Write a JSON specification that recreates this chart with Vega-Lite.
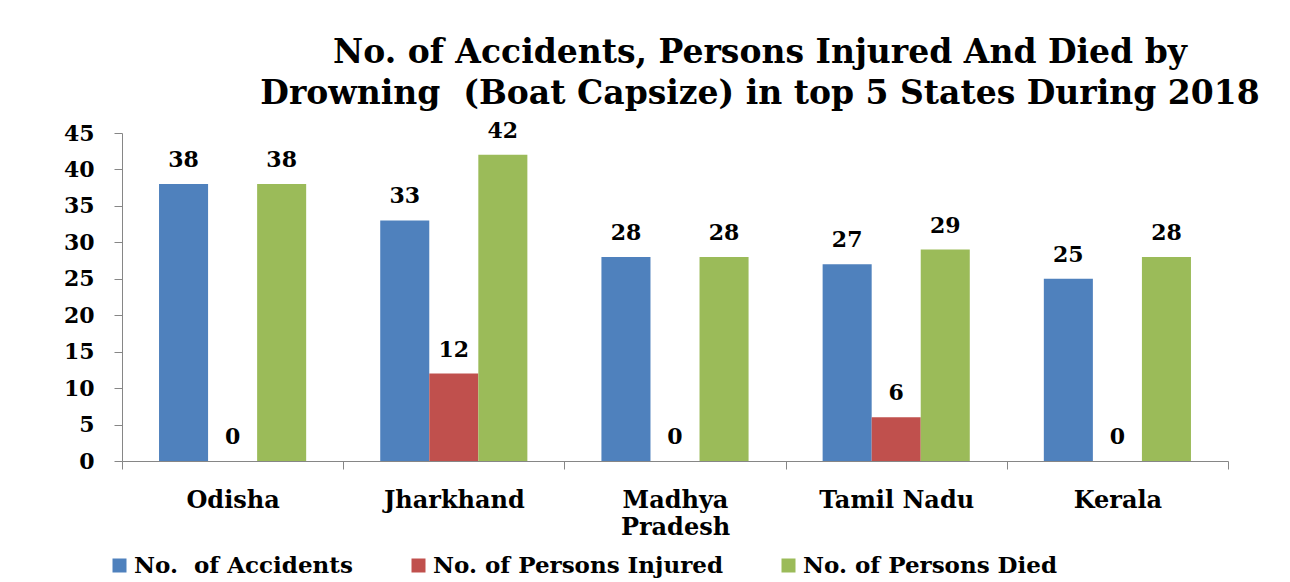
{
  "$schema": "https://vega.github.io/schema/vega-lite/v6.json",
  "autosize": "none",
  "width": 1106,
  "height": 328,
  "padding": {"left": 122, "top": 133, "right": 62, "bottom": 121},
  "background": "white",
  "config": {"view": {"stroke": null}},
  "title": {
    "text": ["No. of Accidents, Persons Injured And Died by", "Drowning\u00a0 (Boat Capsize) in top 5 States During 2018"],
    "font": "DejaVu Serif",
    "fontWeight": "bold",
    "fontSize": 33,
    "lineHeight": 41,
    "color": "black",
    "anchor": "middle",
    "dx": 85,
    "offset": 9
  },
  "data": {
    "values": [
      {"state": "Odisha", "series": "No.\u00a0 of Accidents", "value": 38},
      {"state": "Odisha", "series": "No. of Persons Injured", "value": 0},
      {"state": "Odisha", "series": "No. of Persons Died", "value": 38},
      {"state": "Jharkhand", "series": "No.\u00a0 of Accidents", "value": 33},
      {"state": "Jharkhand", "series": "No. of Persons Injured", "value": 12},
      {"state": "Jharkhand", "series": "No. of Persons Died", "value": 42},
      {"state": "Madhya Pradesh", "series": "No.\u00a0 of Accidents", "value": 28},
      {"state": "Madhya Pradesh", "series": "No. of Persons Injured", "value": 0},
      {"state": "Madhya Pradesh", "series": "No. of Persons Died", "value": 28},
      {"state": "Tamil Nadu", "series": "No.\u00a0 of Accidents", "value": 27},
      {"state": "Tamil Nadu", "series": "No. of Persons Injured", "value": 6},
      {"state": "Tamil Nadu", "series": "No. of Persons Died", "value": 29},
      {"state": "Kerala", "series": "No.\u00a0 of Accidents", "value": 25},
      {"state": "Kerala", "series": "No. of Persons Injured", "value": 0},
      {"state": "Kerala", "series": "No. of Persons Died", "value": 28}
    ]
  },
  "encoding": {
    "x": {
      "field": "state",
      "type": "nominal",
      "sort": ["Odisha", "Jharkhand", "Madhya Pradesh", "Tamil Nadu", "Kerala"],
      "scale": {"paddingInner": 0, "paddingOuter": 0},
      "axis": {
        "title": null,
        "labelAngle": 0,
        "labelExpr": "datum.label == 'Madhya Pradesh' ? ['Madhya', 'Pradesh'] : datum.label",
        "labelFont": "DejaVu Serif",
        "labelFontWeight": "bold",
        "labelFontSize": 24,
        "labelLineHeight": 27,
        "labelColor": "black",
        "labelPadding": 19,
        "labelBaseline": "top",
        "tickBand": "extent",
        "tickSize": 8,
        "tickColor": "#868686",
        "domainColor": "#868686",
        "grid": false
      }
    },
    "xOffset": {
      "field": "series",
      "type": "nominal",
      "sort": ["No.\u00a0 of Accidents", "No. of Persons Injured", "No. of Persons Died"],
      "scale": {"paddingInner": 0, "paddingOuter": 0.755}
    },
    "y": {
      "field": "value",
      "type": "quantitative",
      "scale": {"domain": [0, 45], "nice": false},
      "axis": {
        "title": null,
        "values": [0, 5, 10, 15, 20, 25, 30, 35, 40, 45],
        "labelFont": "DejaVu Serif",
        "labelFontWeight": "bold",
        "labelFontSize": 22,
        "labelColor": "black",
        "labelPadding": 20,
        "tickSize": 8,
        "tickColor": "#868686",
        "domainColor": "#868686",
        "grid": false
      }
    }
  },
  "layer": [
    {
      "mark": {"type": "bar"},
      "encoding": {
        "color": {
          "field": "series",
          "type": "nominal",
          "sort": ["No.\u00a0 of Accidents", "No. of Persons Injured", "No. of Persons Died"],
          "scale": {"range": ["#4F81BD", "#C0504D", "#9BBB59"]},
          "legend": {
            "title": null,
            "orient": "none",
            "direction": "horizontal",
            "columns": 3,
            "gridAlign": "none",
            "legendX": -14,
            "legendY": 421,
            "symbolType": "square",
            "symbolSize": 196,
            "symbolStrokeWidth": 0,
            "labelFont": "DejaVu Serif",
            "labelFontWeight": "bold",
            "labelFontSize": 23,
            "labelColor": "black",
            "labelOffset": 3,
            "columnPadding": 54,
            "labelLimit": 500
          }
        }
      }
    },
    {
      "mark": {
        "type": "text",
        "font": "DejaVu Serif",
        "fontWeight": "bold",
        "fontSize": 22,
        "color": "black",
        "baseline": "alphabetic",
        "dy": -17
      },
      "encoding": {
        "text": {"field": "value", "type": "quantitative"}
      }
    }
  ]
}
